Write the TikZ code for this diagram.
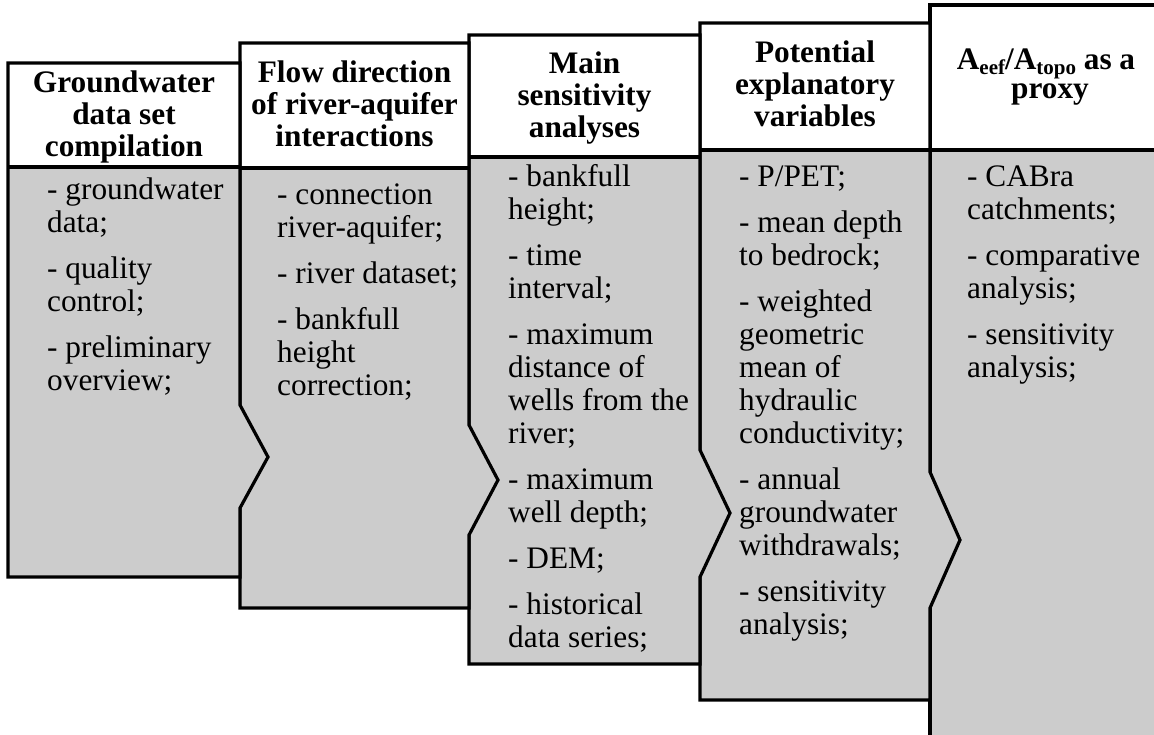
\documentclass[tikz,border=0pt]{standalone}
\usepackage{fontspec}
\setmainfont{Liberation Serif}
\definecolor{panelgray}{HTML}{CCCCCC}
\lineskiplimit=-100pt
\newcommand\cl[1]{\hbox to 0pt{\hss#1\hss}}
\newcommand\bl[1]{\hbox{#1}}
\newcommand\gap{\vskip13pt}
\newcommand\sbs[1]{\raisebox{-5pt}{\fontsize{21}{21}\selectfont #1}}
\begin{document}
\begin{tikzpicture}[x=1pt,y=-1pt,
  edge/.style={line width=3.2pt, line join=miter},
  hdr/.style={anchor=base, inner sep=0pt, font=\fontsize{31.3}{32}\selectfont\bfseries},
  body/.style={anchor=base west, inner sep=0pt, font=\fontsize{31.3}{33}\selectfont}]
\useasboundingbox (0,0) rectangle (1154,735);
\clip (0,0) rectangle (1154,735);

% Panel 5
\fill[panelgray] (930,150) rectangle (1175,750);
\fill[white] (930,5) rectangle (1175,150);
\draw[edge] (1175,5) -- (930,5) -- (930,750);
\draw[edge] (930,150) -- (1175,150);

% Panel 4
\fill[panelgray] (700,150) -- (930,150) -- (930,472) -- (960,540) -- (930,608) -- (930,700) -- (700,700) -- cycle;
\fill[white] (700,23) rectangle (930,150);
\draw[edge] (700,23) -- (930,23) -- (930,472) -- (960,540) -- (930,608) -- (930,700) -- (700,700) -- cycle;
\draw[edge] (700,150) -- (930,150);

% Panel 3
\fill[panelgray] (469,157) -- (700,157) -- (700,450) -- (730,513) -- (700,577) -- (700,664) -- (469,664) -- cycle;
\fill[white] (469,35) rectangle (700,157);
\draw[edge] (469,35) -- (700,35) -- (700,450) -- (730,513) -- (700,577) -- (700,664) -- (469,664) -- cycle;
\draw[edge] (469,157) -- (700,157);

% Panel 2
\fill[panelgray] (240,168) -- (469,168) -- (469,425) -- (498,480) -- (469,535) -- (469,608) -- (240,608) -- cycle;
\fill[white] (240,43) rectangle (469,168);
\draw[edge] (240,43) -- (469,43) -- (469,425) -- (498,480) -- (469,535) -- (469,608) -- (240,608) -- cycle;
\draw[edge] (240,168) -- (469,168);

% Panel 1
\fill[panelgray] (8,167) -- (240,167) -- (240,405) -- (268,457) -- (240,508) -- (240,577) -- (8,577) -- cycle;
\fill[white] (8,63) rectangle (240,167);
\draw[edge] (8,63) -- (240,63) -- (240,405) -- (268,457) -- (240,508) -- (240,577) -- (8,577) -- cycle;
\draw[edge] (8,167) -- (240,167);

% Headers
\node[hdr] (h1) at (124,93) {\vtop{\cl{Groundwater}\cl{data set}\cl{compilation}}};
\node[hdr] (h2) at (354.5,83) {\vtop{\cl{Flow direction}\cl{of river-aquifer}\cl{interactions}}};
\node[hdr] (h3) at (584.5,74) {\vtop{\cl{Main}\cl{sensitivity}\cl{analyses}}};
\node[hdr] (h4) at (815,63) {\vtop{\cl{Potential}\cl{explanatory}\cl{variables}}};
\node[hdr] (h5a) at (1046,70) {\cl{A\sbs{eef}/A\sbs{topo} as a}};
\node[hdr] (h5b) at (1050,99) {\cl{proxy}};

% Bodies
\node[body] (b1) at (47,200) {\vtop{\bl{- groundwater}\bl{data;}\gap\bl{- quality}\bl{control;}\gap\bl{- preliminary}\bl{overview;}}};
\node[body] (b2) at (277,205) {\vtop{\bl{- connection}\bl{river-aquifer;}\gap\bl{- river dataset;}\gap\bl{- bankfull}\bl{height}\bl{correction;}}};
\node[body] (b3) at (508,187) {\vtop{\bl{- bankfull}\bl{height;}\gap\bl{- time}\bl{interval;}\gap\bl{- maximum}\bl{distance of}\bl{wells from the}\bl{river;}\gap\bl{- maximum}\bl{well depth;}\gap\bl{- DEM;}\gap\bl{- historical}\bl{data series;}}};
\node[body] (b4) at (739,187) {\vtop{\bl{- P/PET;}\gap\bl{- mean depth}\bl{to bedrock;}\gap\bl{- weighted}\bl{geometric}\bl{mean of}\bl{hydraulic}\bl{conductivity;}\gap\bl{- annual}\bl{groundwater}\bl{withdrawals;}\gap\bl{- sensitivity}\bl{analysis;}}};
\node[body] (b5) at (967,187) {\vtop{\bl{- CABra}\bl{catchments;}\gap\bl{- comparative}\bl{analysis;}\gap\bl{- sensitivity}\bl{analysis;}}};
\end{tikzpicture}
\end{document}
